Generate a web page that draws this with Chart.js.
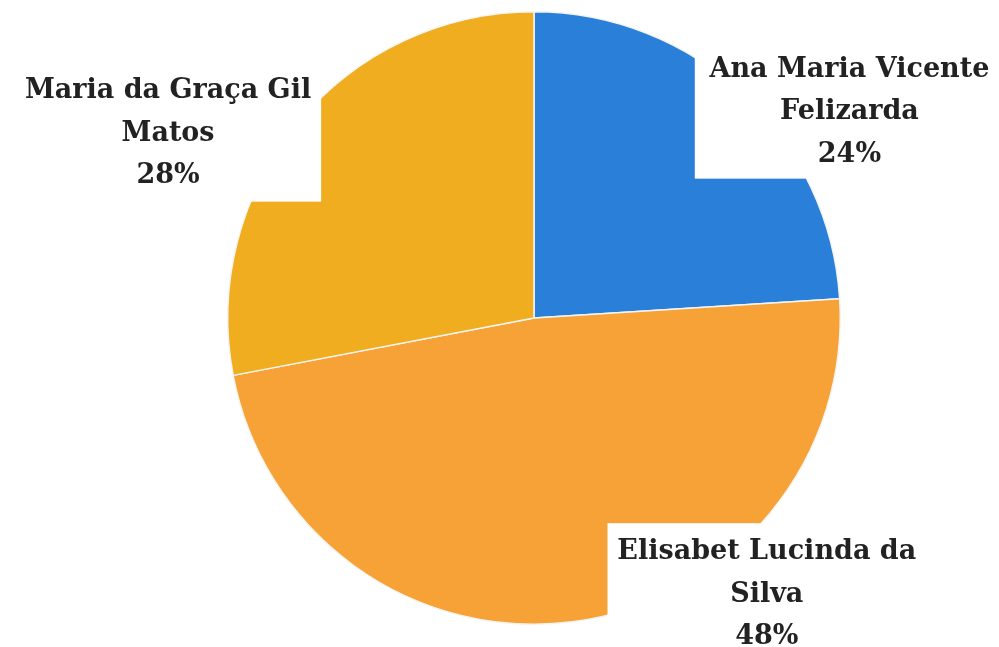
<!DOCTYPE html>
<html><head><meta charset="utf-8">
<script src="https://cdn.jsdelivr.net/npm/chart.js@4"></script>
<style>html,body{margin:0;padding:0;background:#fff;}#wrap{width:999px;height:647px;position:relative;}</style>
</head><body><div id="wrap"><canvas id="c"></canvas></div>
<script>
const categories = ["Ana Maria Vicente Felizarda", "Elisabet Lucinda da Silva", "Maria da Graça Gil Matos"];
const labelLines = [["Ana Maria Vicente", "Felizarda"], ["Elisabet Lucinda da", "Silva"], ["Maria da Graça Gil", "Matos"]];
const values = [24, 48, 28];
const percentLabels = ["24%", "48%", "28%"];
const colors = ["#2a80d8", "#f6a236", "#f0ad1f"];

// label placement relative to pie centre, in units of radius; boxes in same units
const labelPos = [
  {cx: 1.03, cy: -0.81, box: [0.525, -0.95, 1.6, -0.455]},
  {cx: 0.76, cy: 0.765, box: [0.24, 0.67, 1.6, 1.2]},
  {cx: -1.195, cy: -0.74, box: [-1.8, -0.85, -0.695, -0.38]}
];

const labelPlugin = {
  id: 'boxLabels',
  afterDatasetsDraw(chart) {
    const ctx = chart.ctx;
    const arc = chart.getDatasetMeta(0).data[0];
    const cx = arc.x, cy = arc.y, r = arc.outerRadius;
    ctx.save();
    labelPos.forEach((p, i) => {
      const b = p.box;
      ctx.fillStyle = '#ffffff';
      ctx.fillRect(cx + b[0]*r, cy + b[1]*r, (b[2]-b[0])*r, (b[3]-b[1])*r);
      ctx.fillStyle = '#222222';
      ctx.font = 'bold 27px "DejaVu Serif", serif';
      ctx.textAlign = 'center';
      ctx.textBaseline = 'middle';
      const lines = labelLines[i].concat([percentLabels[i]]);
      lines.forEach((t, k) => {
        ctx.fillText(t, cx + p.cx*r, cy + p.cy*r + k*42.5);
      });
    });
    ctx.restore();
  }
};

new Chart(document.getElementById('c'), {
  type: 'pie',
  data: {
    labels: categories,
    datasets: [{
      data: values,
      backgroundColor: colors,
      borderColor: '#f4f4f0',
      borderWidth: 1.5
    }]
  },
  options: {
    responsive: true,
    maintainAspectRatio: false,
    animation: false,
    layout: {padding: {left: 227, right: 158, top: 11, bottom: 22}},
    plugins: {legend: {display: false}, tooltip: {enabled: false}}
  },
  plugins: [labelPlugin]
});
</script>
</body></html>
